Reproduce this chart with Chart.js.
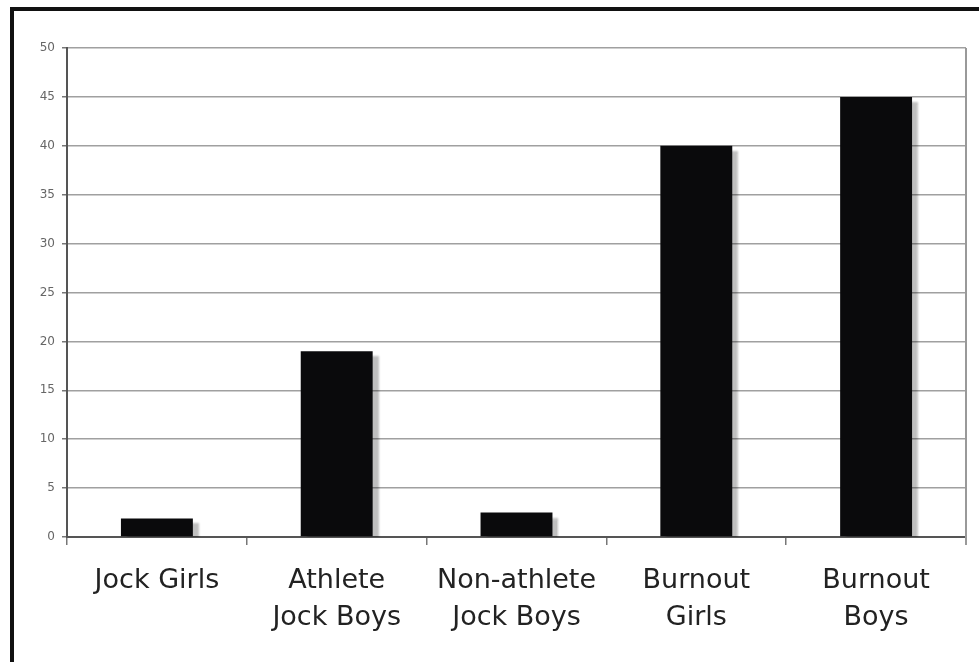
<!DOCTYPE html>
<html>
<head>
<meta charset="utf-8">
<script src="https://cdn.jsdelivr.net/npm/chart.js@4"></script>
<style>
  html, body { margin: 0; padding: 0; background: #fff; overflow: hidden; }
  #wrap { position: relative; width: 979px; height: 662px; }
  #frame {
    position: absolute; left: 10px; top: 7px; width: 990px; height: 680px;
    border: 4px solid #111; box-sizing: border-box;
  }
  canvas { position: absolute; left: 0; top: 0; }
</style>
</head>
<body>
<div id="wrap">
  <div id="frame"></div>
  <canvas id="chart" width="979" height="662"></canvas>
</div>
<script>
const categories = [
  ["Jock Girls"],
  ["Athlete", "Jock Boys"],
  ["Non-athlete", "Jock Boys"],
  ["Burnout", "Girls"],
  ["Burnout", "Boys"]
];
const values = [1.9, 19, 2.5, 40, 45];
const yMin = 0;
const yMax = 50;
const yStep = 5;

// soft grey shadow to the lower right of each bar
const barShadow = {
  id: "barShadow",
  beforeDatasetsDraw(chart) {
    const ctx = chart.ctx;
    ctx.save();
    ctx.shadowColor = "rgba(0,0,0,0.25)";
    ctx.shadowOffsetX = 6;
    ctx.shadowOffsetY = 5;
    ctx.shadowBlur = 2;
  },
  afterDatasetsDraw(chart) {
    chart.ctx.restore();
  }
};

// right edge of the plot area
const plotFrame = {
  id: "plotFrame",
  afterDraw(chart) {
    const { ctx, chartArea } = chart;
    ctx.save();
    ctx.strokeStyle = "#999";
    ctx.lineWidth = 2;
    ctx.beginPath();
    ctx.moveTo(chartArea.right, chartArea.top);
    ctx.lineTo(chartArea.right, chartArea.bottom + 8);
    ctx.stroke();
    ctx.restore();
  }
};

const ctx = document.getElementById("chart").getContext("2d");
new Chart(ctx, {
  type: "bar",
  data: {
    labels: categories,
    datasets: [
      {
        data: values,
        backgroundColor: "#0a0a0c",
        borderWidth: 0,
        categoryPercentage: 1,
        barPercentage: 0.4
      }
    ]
  },
  options: {
    responsive: false,
    animation: false,
    devicePixelRatio: 1,
    layout: { padding: { left: 0, top: 48, right: 13, bottom: 0 } },
    plugins: {
      legend: { display: false },
      tooltip: { enabled: false }
    },
    scales: {
      x: {
        offset: true,
        grid: {
          offset: true,
          drawOnChartArea: false,
          drawTicks: true,
          tickLength: 8,
          color: "#777",
          lineWidth: 1.5
        },
        border: { color: "#555", width: 2 },
        ticks: {
          color: "#222",
          padding: 17,
          maxRotation: 0,
          autoSkip: false,
          font: { family: "DejaVu Sans", size: 27, lineHeight: 1.38 }
        },
        afterFit(scale) { scale.height = 125; }
      },
      y: {
        min: yMin,
        max: yMax,
        ticks: {
          stepSize: yStep,
          color: "#666",
          padding: 7,
          font: { family: "DejaVu Sans", size: 12 }
        },
        grid: {
          color: "#a0a0a0",
          lineWidth: 1.5,
          tickLength: 5,
          tickColor: "#777"
        },
        border: { color: "#555", width: 2 },
        afterFit(scale) { scale.width = 67; }
      }
    }
  },
  plugins: [barShadow, plotFrame]
});
</script>
</body>
</html>
